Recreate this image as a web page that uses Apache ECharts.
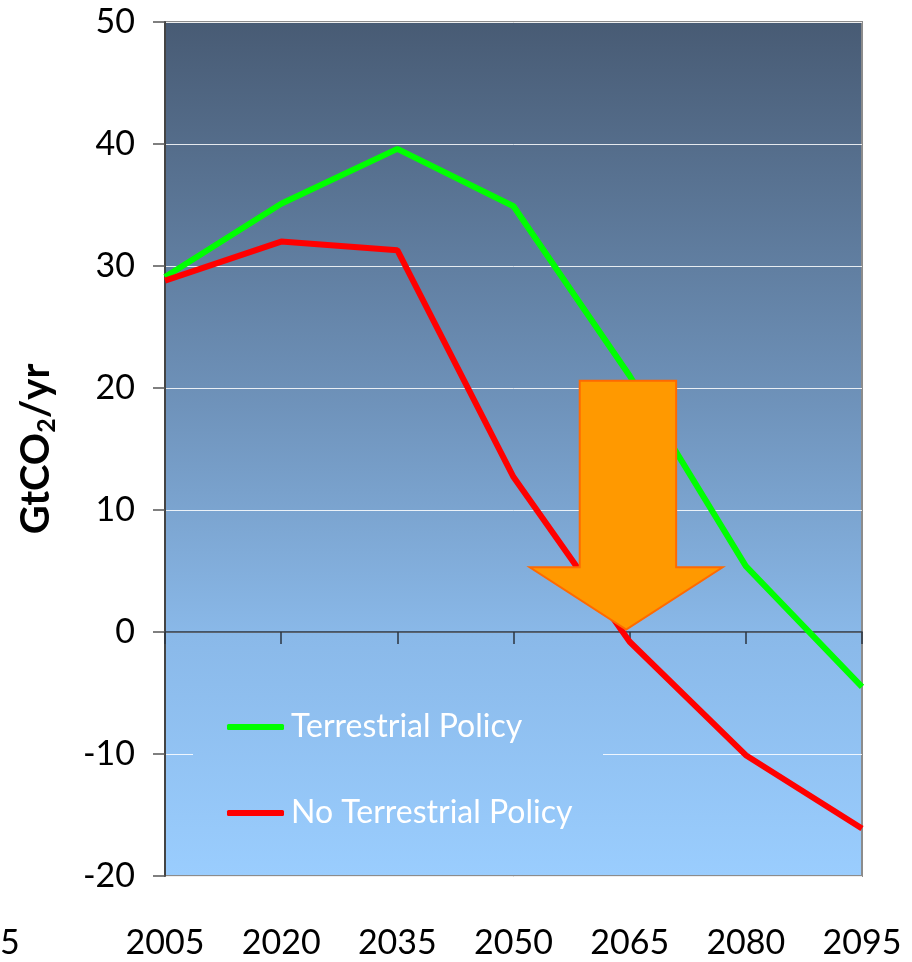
<!DOCTYPE html>
<html><head><meta charset="utf-8">
<script src="https://cdn.jsdelivr.net/npm/echarts@6/dist/echarts.min.js"></script>
<style>html,body{margin:0;padding:0;background:#fff}#c{width:912px;height:962px}</style>
</head><body><div id="c"></div>
<script>
const years = ['2005','2020','2035','2050','2065','2080','2095'];
const terrestrialPolicy = [29.1, 35.1, 39.6, 34.9, 21.0, 5.4, -4.5];
const noTerrestrialPolicy = [28.8, 32.0, 31.3, 12.7, -0.8, -10.1, -16.1];
const yTicks = [-20, -10, 0, 10, 20, 30, 40, 50];

const FONT = 'Lato, "Open Sans", sans-serif';
const chart = echarts.init(document.getElementById('c'), null, {renderer: 'canvas'});

const GRID_TOP = 22, GRID_BOTTOM_PX = 876;
function makeBg() {
  return new echarts.graphic.LinearGradient(0, GRID_TOP, 0, GRID_BOTTOM_PX, [
    {offset: 0, color: '#485b74'},
    {offset: 0.45, color: '#6f93bb'},
    {offset: 0.72, color: '#8ab9e9'},
    {offset: 1, color: '#9acdfe'}
  ], true);
}

chart.setOption({
  animation: false,
  grid: {left: 165, top: GRID_TOP, right: 50, bottom: 962 - GRID_BOTTOM_PX, show: true,
         backgroundColor: makeBg(), borderColor: '#8c8c8c', borderWidth: 2},
  xAxis: [
    {type: 'category', data: years, boundaryGap: false,
     axisLine: {onZero: true, lineStyle: {color: '#2b3440', width: 1.5}},
     axisTick: {show: true, inside: false, length: 12, lineStyle: {color: '#2b3440', width: 1.5}},
     axisLabel: {show: false}, splitLine: {show: false}},
    {type: 'category', data: years, boundaryGap: false, position: 'bottom',
     axisLine: {show: false}, axisTick: {show: false}, splitLine: {show: false},
     axisLabel: {show: true, margin: 50, fontFamily: FONT, fontSize: 34, color: '#000'}}
  ],
  yAxis: {type: 'value', min: yTicks[0], max: yTicks[yTicks.length - 1], interval: 10,
    axisLine: {show: true, onZero: false, lineStyle: {color: '#444', width: 2}},
    axisTick: {show: true, length: 12, lineStyle: {color: '#555', width: 1.5}},
    axisLabel: {margin: 30, fontFamily: FONT, fontSize: 34, color: '#000'},
    splitLine: {show: true, lineStyle: {color: 'rgba(255,255,255,0.85)', width: 1}},
    name: '{a|GtCO}{s|2}{a|/yr}', nameLocation: 'middle', nameGap: 106, nameRotate: 90,
    nameTextStyle: {rich: {
      a: {fontFamily: FONT, fontWeight: 'bold', fontSize: 40, color: '#000'},
      s: {fontFamily: FONT, fontWeight: 'bold', fontSize: 25, color: '#000', verticalAlign: 'bottom', padding: [20, 0, 0, 0]}
    }}
  },
  legend: {
    orient: 'vertical', left: 222, top: 706, itemGap: 54, itemWidth: 57, itemHeight: 6,
    icon: 'roundRect',
    textStyle: {color: '#fff', fontFamily: FONT, fontSize: 32, padding: [0, 0, 0, 2]},
    data: ['Terrestrial Policy', 'No Terrestrial Policy']
  },
  series: [
    {name: 'Terrestrial Policy', type: 'line', data: terrestrialPolicy, xAxisIndex: 0,
     symbol: 'none', lineStyle: {color: '#00ff00', width: 6}, itemStyle: {color: '#00ff00'}, z: 3},
    {name: 'No Terrestrial Policy', type: 'line', data: noTerrestrialPolicy, xAxisIndex: 0,
     symbol: 'none', lineStyle: {color: '#ff0000', width: 6}, itemStyle: {color: '#ff0000'}, z: 3}
  ]
});

// Arrow annotation positioned in data space
function px(idx, val) {
  const a = chart.convertToPixel({xAxisIndex: 0, yAxisIndex: 0}, [0, val]);
  const b = chart.convertToPixel({xAxisIndex: 0, yAxisIndex: 0}, [years.length - 1, val]);
  return [a[0] + (b[0] - a[0]) * idx / (years.length - 1), a[1]];
}
const shaftL = 3.57, shaftR = 4.40, headL = 3.14, headR = 4.80, tipX = 3.97;
const topV = 20.6, baseV = 5.3, tipV = 0.2;
const pts = [px(shaftL, topV), px(shaftR, topV), px(shaftR, baseV), px(headR, baseV),
             px(tipX, tipV), px(headL, baseV), px(shaftL, baseV)];
chart.setOption({
  graphic: [
    {type: 'rect', z: 1, silent: true,
     shape: {x: 193, y: 668, width: 410, height: 190},
     style: {fill: makeBg()}},
    {type: 'polygon', shape: {points: pts}, z: 10,
     style: {fill: '#ff9900', stroke: '#ff6a00', lineWidth: 2}},
    {type: 'text', left: 0, top: 926, z: 10,
     style: {text: '5', font: '34px ' + FONT, fill: '#000'}}
  ]
});
</script></body></html>
